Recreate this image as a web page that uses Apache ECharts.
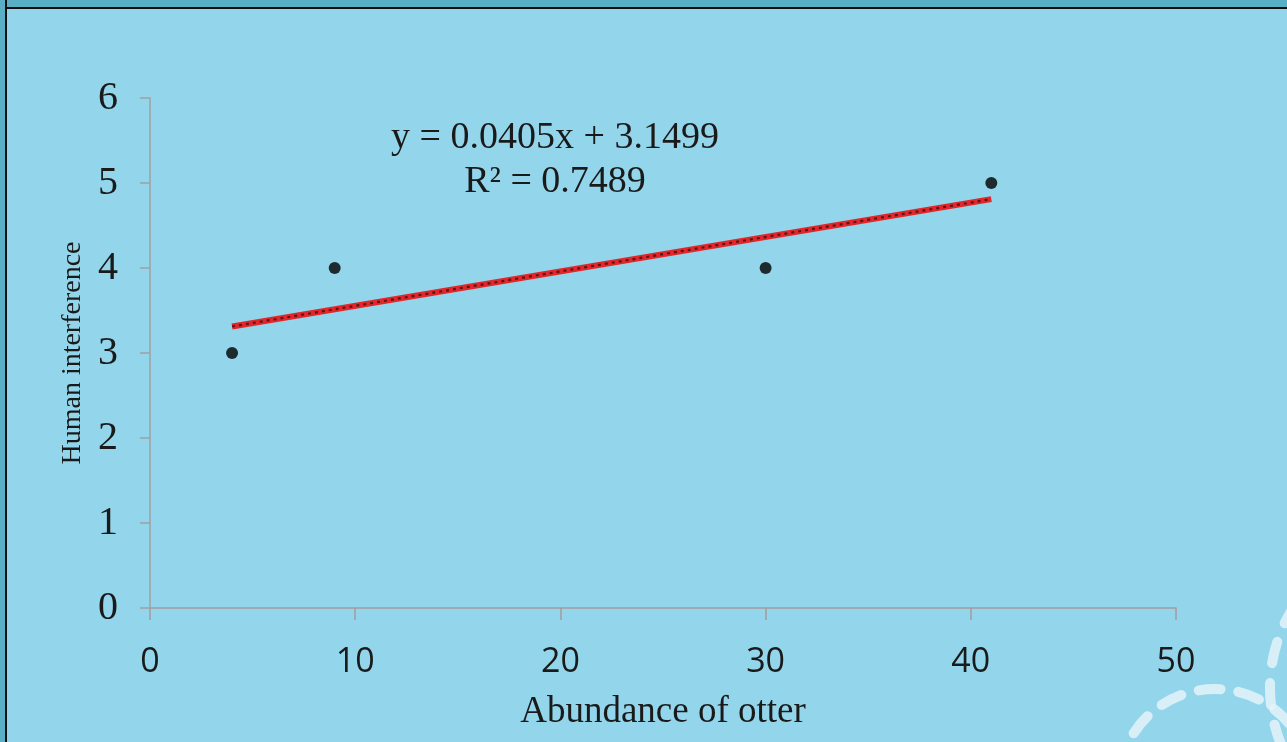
<!DOCTYPE html>
<html>
<head>
<meta charset="utf-8">
<script src="https://cdn.jsdelivr.net/npm/echarts@6/dist/echarts.min.js"></script>
<style>
  html, body { margin: 0; padding: 0; background: #93d6ec; }
  #wrap { position: relative; width: 1287px; height: 742px; overflow: hidden; background: #93d6ec; }
  #topbar { position: absolute; left: 0; top: 0; width: 1287px; height: 7px; background: #58afc6; border-bottom: 2px solid #111; }
  #leftbar { position: absolute; left: 0; top: 0; width: 5px; height: 742px; background: #58afc6; border-right: 2px solid #111; }
  #chart { position: absolute; left: 0; top: 0; width: 1287px; height: 742px; }
</style>
</head>
<body>
<div id="wrap">
  <div id="topbar"></div>
  <div id="leftbar"></div>
  <div id="chart"></div>
</div>
<script>
const xTicks = [0, 10, 20, 30, 40, 50];
const yTicks = [0, 1, 2, 3, 4, 5, 6];
const otterAbundance = [4, 9, 30, 41];
const humanInterference = [3, 4, 4, 5];
const slope = 0.0405;
const intercept = 3.1499;
const rSquared = 0.7489;
const trendX = [4, 41];

const points = otterAbundance.map((x, i) => [x, humanInterference[i]]);
const trend = trendX.map(x => [x, slope * x + intercept]);

const chart = echarts.init(document.getElementById('chart'), null, { renderer: 'canvas' });
const axisColor = '#a59a9c';
const deco = 'rgba(228,243,250,0.85)';
chart.setOption({
  backgroundColor: 'transparent',
  animation: false,
  grid: { left: 150, right: 111, top: 98, bottom: 134 },
  xAxis: {
    type: 'value', min: xTicks[0], max: xTicks[xTicks.length - 1], interval: 10,
    name: 'Abundance of otter', nameLocation: 'middle', nameGap: 86,
    nameTextStyle: { fontFamily: 'Liberation Serif', fontSize: 37, color: '#1a1a1a' },
    axisLine: { show: true, lineStyle: { color: axisColor, width: 1.5 } },
    axisTick: { show: true, length: 12, lineStyle: { color: axisColor, width: 1.5 } },
    axisLabel: { fontFamily: 'Open Sans', fontSize: 34, color: '#1a1a1a', margin: 37 },
    splitLine: { show: false }
  },
  yAxis: {
    type: 'value', min: yTicks[0], max: yTicks[yTicks.length - 1], interval: 1,
    name: 'Human interference', nameLocation: 'middle', nameGap: 55,
    nameTextStyle: { fontFamily: 'Liberation Serif', fontSize: 28, color: '#1a1a1a' },
    axisLine: { show: true, lineStyle: { color: '#a0a0a0', width: 1.5 } },
    axisTick: { show: true, length: 10, lineStyle: { color: '#a0a0a0', width: 1.5 } },
    axisLabel: { fontFamily: 'Liberation Serif', fontSize: 40, color: '#1a1a1a', margin: 32 },
    splitLine: { show: false }
  },
  series: [
    {
      type: 'line', data: trend, symbol: 'none', silent: true,
      lineStyle: { color: '#e3262a', width: 6 }, z: 2
    },
    {
      type: 'line', data: trend, symbol: 'none', silent: true,
      lineStyle: { color: '#5e1414', width: 2.2, type: [3, 4] }, z: 3
    },
    {
      type: 'scatter', data: points, symbol: 'circle', symbolSize: 12,
      itemStyle: { color: '#000' }, z: 4
    }
  ],
  graphic: [
    {
      type: 'text', x: 555, y: 138,
      style: {
        text: 'y = ' + slope.toFixed(4) + 'x + ' + intercept.toFixed(4),
        font: '38px "Liberation Serif"', fill: '#1a1a1a', align: 'center', verticalAlign: 'middle'
      }
    },
    {
      type: 'text', x: 555, y: 182,
      style: {
        text: 'R² = ' + rSquared.toFixed(4),
        font: '38px "Liberation Serif"', fill: '#1a1a1a', align: 'center', verticalAlign: 'middle'
      }
    },
    {
      type: 'circle', shape: { cx: 1215, cy: 786, r: 97 },
      style: { fill: 'none', stroke: deco, lineWidth: 10, lineDash: [22, 18], lineCap: 'round' }
    },
    {
      type: 'circle', shape: { cx: 1420, cy: 688, r: 150 },
      style: { fill: 'none', stroke: deco, lineWidth: 10, lineDash: [22, 20], lineDashOffset: 8, lineCap: 'round' }
    }
  ]
});
</script>
</body>
</html>
